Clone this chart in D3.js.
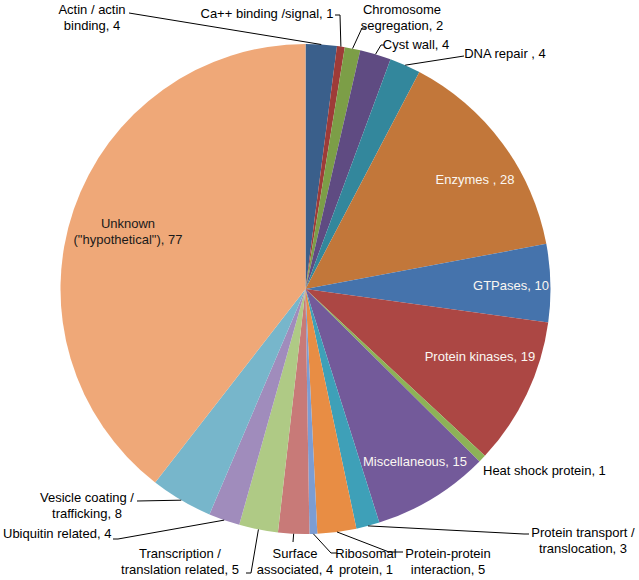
<!DOCTYPE html>
<html>
<head>
<meta charset="utf-8">
<script src="https://cdn.jsdelivr.net/npm/d3@7"></script>
<style>
  html, body { margin: 0; padding: 0; background: #ffffff; }
  svg { display: block; }
  text { font-family: "Liberation Sans", Arial, sans-serif; font-size: 13px; }
</style>
</head>
<body>
<svg id="chart" width="639" height="580"></svg>
<script>
// ---- data ----
const categories = [
  "Actin / actin binding", "Ca++ binding /signal", "Chromosome segregation",
  "Cyst wall", "DNA repair ", "Enzymes ", "GTPases", "Protein kinases",
  "Heat shock protein", "Miscellaneous", "Protein transport / translocation",
  "Protein-protein interaction", "Ribosomal protein", "Surface associated",
  "Transcription / translation related", "Ubiquitin related",
  "Vesicle coating / trafficking", "Unknown (\"hypothetical\")"
];
const counts = [4, 1, 2, 4, 4, 28, 10, 19, 1, 15, 3, 5, 1, 4, 5, 4, 8, 77];
const labelLines = [
  ["Actin / actin", "binding, 4"],
  ["Ca++ binding /signal, 1"],
  ["Chromosome", "segregation, 2"],
  ["Cyst wall, 4"],
  ["DNA repair , 4"],
  ["Enzymes , 28"],
  ["GTPases, 10"],
  ["Protein kinases, 19"],
  ["Heat shock protein, 1"],
  ["Miscellaneous, 15"],
  ["Protein transport /", "translocation, 3"],
  ["Protein-protein", "interaction, 5"],
  ["Ribosomal", "protein, 1"],
  ["Surface", "associated, 4"],
  ["Transcription /", "translation related, 5"],
  ["Ubiquitin related, 4"],
  ["Vesicle coating /", "trafficking, 8"],
  ["Unknown", "(\"hypothetical\"), 77"]
];

// ---- styles / layout ----
const colors = [
  "#3A5F8B", "#9E3B38", "#7C9E47", "#5F4B82", "#33879C", "#C2773A",
  "#4573AC", "#AC4744", "#8DB257", "#735A9A", "#3EA0B8", "#E88D44",
  "#7C9DD3", "#C87A78", "#AFCA85", "#A08CBC", "#77B6CB", "#EFA878"
];
// label layout: x, y of first line centre, anchor, text colour, leader polyline start points
const labelLayout = [
  {x: 92,  y: 9,   anchor: "middle", fill: "#000", leader: [[129, 13]]},
  {x: 267, y: 13,  anchor: "middle", fill: "#000", leader: [[335, 15], [340, 15]]},
  {x: 402, y: 9,   anchor: "middle", fill: "#000", leader: [[366, 28], [362, 28]]},
  {x: 416, y: 44,  anchor: "middle", fill: "#000", leader: [[384, 45], [381, 45]]},
  {x: 505, y: 53,  anchor: "middle", fill: "#000", leader: [[464, 56]]},
  {x: 475, y: 179, anchor: "middle", fill: "#fbf7f2", leader: null},
  {x: 511, y: 285, anchor: "middle", fill: "#fbf7f2", leader: null},
  {x: 480, y: 356, anchor: "middle", fill: "#fbf7f2", leader: null},
  {x: 483, y: 470, anchor: "start",  fill: "#000", leader: null},
  {x: 415, y: 461, anchor: "middle", fill: "#fbf7f2", leader: null},
  {x: 583, y: 532, anchor: "middle", fill: "#000", leader: [[529, 534], [524, 534]]},
  {x: 448, y: 553, anchor: "middle", fill: "#000", leader: [[403, 552], [389, 552]]},
  {x: 366, y: 553, anchor: "middle", fill: "#000", leader: [[337, 553], [331, 553]]},
  {x: 295, y: 553, anchor: "middle", fill: "#000", leader: [[293, 542]]},
  {x: 180, y: 553, anchor: "middle", fill: "#000", leader: [[246, 573], [251, 573]]},
  {x: 3,   y: 533, anchor: "start",  fill: "#000", leader: [[113, 539], [118, 539]]},
  {x: 87,  y: 497, anchor: "middle", fill: "#000", leader: [[137, 501]]},
  {x: 128, y: 223, anchor: "middle", fill: "#1a1a1a", leader: null}
];

const cx = 305.5, cy = 289, radius = 245;
const lineGap = 16.5;

const svg = d3.select("#chart");
const g = svg.append("g").attr("transform", `translate(${cx},${cy})`);

const data = categories.map((c, i) => ({category: c, value: counts[i], idx: i}));

const pie = d3.pie().sort(null).value(d => d.value).startAngle(0).endAngle(2 * Math.PI);
const arcs = pie(data);
const arc = d3.arc().innerRadius(0).outerRadius(radius);

g.selectAll("path.slice")
  .data(arcs)
  .join("path")
  .attr("class", "slice")
  .attr("d", arc)
  .attr("fill", d => colors[d.data.idx]);

// leader lines
const line = d3.line();
arcs.forEach(a => {
  const lay = labelLayout[a.data.idx];
  if (!lay.leader) return;
  const mid = (a.startAngle + a.endAngle) / 2;
  const end = [cx + radius * Math.sin(mid), cy - radius * Math.cos(mid)];
  const pts = lay.leader.concat([end]);
  svg.append("path")
    .attr("d", line(pts))
    .attr("fill", "none")
    .attr("stroke", "#000")
    .attr("stroke-width", 1);
});

// labels
arcs.forEach(a => {
  const i = a.data.idx;
  const lay = labelLayout[i];
  const t = svg.append("text")
    .attr("text-anchor", lay.anchor)
    .attr("fill", lay.fill);
  labelLines[i].forEach((s, k) => {
    t.append("tspan")
      .attr("x", lay.x)
      .attr("y", lay.y + k * lineGap)
      .attr("dominant-baseline", "central")
      .text(s);
  });
});
</script>
</body>
</html>
